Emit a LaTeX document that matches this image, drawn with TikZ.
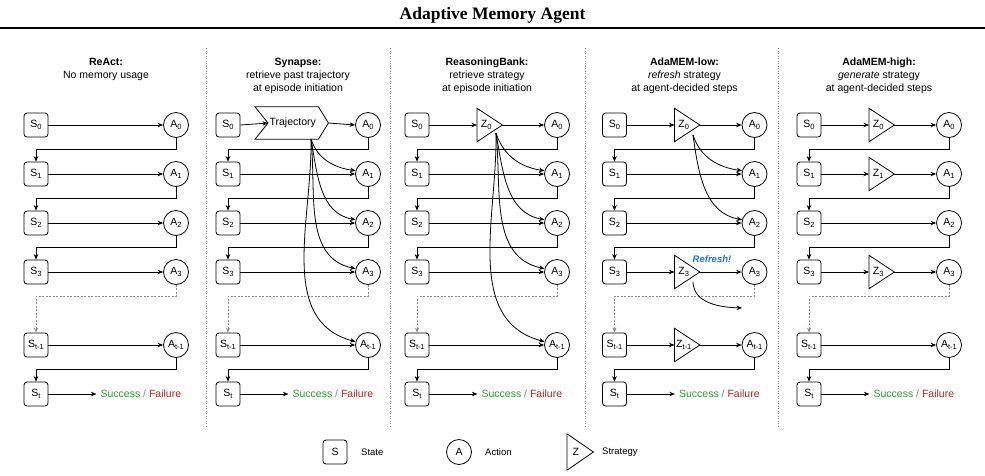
\documentclass[tikz,border=0pt]{standalone}
\usepackage{fontspec}
\setmainfont{Liberation Sans}
\newfontfamily\titlefont{Liberation Serif}
\usetikzlibrary{arrows.meta,calc}
\definecolor{sgreen}{HTML}{2CA02C}
\definecolor{sred}{HTML}{B22222}
\definecolor{rblue}{HTML}{1A73E8}
\definecolor{sepgray}{HTML}{8C8C8C}
\newcommand\lbl[2]{#1\raisebox{-0.35ex}{\fontsize{7.5}{8}\selectfont #2}}
\tikzset{
  st/.style={draw, rounded corners=3pt, minimum width=24pt, minimum height=24pt, inner sep=0pt, line width=0.8pt, font=\fontsize{10.5}{12}\selectfont},
  ac/.style={draw, circle, minimum size=25pt, inner sep=0pt, line width=0.8pt, font=\fontsize{10.5}{12}\selectfont},
  zz/.style={minimum width=25pt, minimum height=33pt, inner sep=0pt, anchor=west, font=\fontsize{10.5}{12}\selectfont},
  arr/.style={-{Stealth[length=5.5pt,width=4.5pt]}, line width=0.8pt},
  arrd/.style={-{Stealth[length=5pt,width=4pt]}, line width=0.5pt, draw=sepgray, dash pattern=on 2pt off 1.5pt},
  sep/.style={draw=sepgray, line width=0.6pt, dash pattern=on 1pt off 1.5pt},
  hdr/.style={align=center, anchor=north, inner sep=0pt, font=\fontsize{10.5}{13}\selectfont},
  sf/.style={anchor=west, inner sep=0pt, font=\fontsize{10.5}{12}\selectfont},
  lg/.style={anchor=west, inner sep=0pt, font=\fontsize{9.5}{11}\selectfont},
}
\newcommand\ztri[4]{%
  \node[zz] (#1) at (#2,#3) {\hspace*{-7pt}\lbl{Z}{#4}};
  \draw[line width=0.8pt] (#1.north west) -- (#1.east) -- (#1.south west) -- cycle;
}
\newcommand\mkcol[2]{%
  \foreach \r/\y/\s in {0/125/0, 1/174/1, 2/223/2, 3/272/3, t1/345/{t-1}} {
    \node[st] (#1s\r) at (#2,\y) {\lbl{S}{\s}};
    \node[ac] (#1a\r) at (#2+140,\y) {\lbl{A}{\s}};
  }
  \node[st] (#1st) at (#2,394) {\lbl{S}{t}};
  \draw[arr] (#1a0.south) -- ++(0,11) -| (#1s1.north);
  \draw[arr] (#1a1.south) -- ++(0,11) -| (#1s2.north);
  \draw[arr] (#1a2.south) -- ++(0,11) -| (#1s3.north);
  \draw[arrd] (#1a3.south) -- ++(0,11.5) -| (#1st1.north);
  \draw[arr] (#1at1.south) -- ++(0,11) -| (#1st.north);
  \draw[arr] (#1st.east) -- ++(48,0) coordinate (#1end);
  \node[sf] (#1sf) at ([xshift=4pt]#1end) {\textcolor{sgreen}{Success} \textcolor{gray}{/} \textcolor{sred}{Failure}};
}
\begin{document}
\begin{tikzpicture}[x=1pt,y=-1pt]
\useasboundingbox (0,0) rectangle (985,475);

% title
\node[font=\titlefont\bfseries\fontsize{17.5}{20}\selectfont, inner sep=0pt] (title) at (492.5,15) {Adaptive Memory Agent};
\draw[line width=2pt] (0,28) -- (985,28);

% headers
\node[hdr] (h1) at (106,58) {\textbf{ReAct:}\\No memory usage};
\node[hdr] (h2) at (298,58) {\textbf{Synapse:}\\retrieve past trajectory\\at episode initiation};
\node[hdr] (h3) at (487,58) {\textbf{ReasoningBank:}\\retrieve strategy\\at episode initiation};
\node[hdr] (h4) at (684.5,58) {\textbf{AdaMEM-low:}\\\textit{refresh} strategy\\at agent-decided steps};
\node[hdr] (h5) at (879,58) {\textbf{AdaMEM-high:}\\\textit{generate} strategy\\at agent-decided steps};

% separators
\draw[sep] (206,48) -- (206,428);
\draw[sep] (390,48) -- (390,428);
\draw[sep] (585,48) -- (585,428);
\draw[sep] (778,48) -- (778,428);

% columns
\mkcol{a}{36}
\mkcol{b}{228}
\mkcol{c}{417}
\mkcol{d}{614.5}
\mkcol{e}{809}

% column 1: ReAct
\foreach \r in {0,1,2,3,t1} { \draw[arr] (as\r.east) -- (aa\r.west); }

% column 2: Synapse
\node[minimum width=73pt, minimum height=32pt, inner sep=0pt, anchor=west, font=\fontsize{10.5}{12}\selectfont] (traj) at (255,123) {\hspace*{2pt}Trajectory};
\draw[line width=0.8pt] (traj.north west) -- ([xshift=-10pt]traj.north east) -- (traj.east) -- ([xshift=-10pt]traj.south east) -- (traj.south west) -- ([xshift=13pt]traj.west) -- cycle;
\draw[arr] (bs0.east) -- ([xshift=13pt]traj.west);
\draw[arr] (traj.east) -- (ba0.west);
\foreach \r in {1,2,3,t1} { \draw[arr] (bs\r.east) -- (ba\r.west); }
\coordinate (bsrc) at (311,139);
\draw[arr] (bsrc) to[out=-72,in=172] (ba1.165);
\draw[arr] (bsrc) to[out=-80,in=170] (ba2.165);
\draw[arr] (bsrc) to[out=-84,in=168] (ba3.165);
\draw[arr] (bsrc) to[out=-89,in=165] (bat1.165);

% column 3: ReasoningBank
\ztri{cz0}{477}{125}{0}
\draw[arr] (cs0.east) -- (cz0.west);
\draw[arr] (cz0.east) -- (ca0.west);
\foreach \r in {1,2,3,t1} { \draw[arr] (cs\r.east) -- (ca\r.west); }
\coordinate (csrc) at (496,133);
\draw[arr] (csrc) to[out=-72,in=172] (ca1.165);
\draw[arr] (csrc) to[out=-80,in=170] (ca2.165);
\draw[arr] (csrc) to[out=-84,in=168] (ca3.165);
\draw[arr] (csrc) to[out=-89,in=165] (cat1.165);

% column 4: AdaMEM-low
\ztri{dz0}{674.5}{125}{0}
\ztri{dz3}{674.5}{272}{3}
\ztri{dzt1}{674.5}{345}{t-1}
\draw[arr] (ds0.east) -- (dz0.west);
\draw[arr] (dz0.east) -- (da0.west);
\draw[arr] (ds3.east) -- (dz3.west);
\draw[arr] (dz3.east) -- (da3.west);
\draw[arr] (dst1.east) -- (dzt1.west);
\draw[arr] (dzt1.east) -- (dat1.west);
\foreach \r in {1,2} { \draw[arr] (ds\r.east) -- (da\r.west); }
\coordinate (dsrc) at (693,135);
\draw[arr] (dsrc) to[out=-72,in=172] (da1.165);
\draw[arr] (dsrc) to[out=-82,in=170] (da2.165);
\node[font=\bfseries\itshape\fontsize{9.5}{11}\selectfont, text=rblue, inner sep=0pt] (refresh) at (712,259) {Refresh!};
\coordinate (dsrc3) at (693,282);
\coordinate (dend3) at (742,308);
\draw[arr] (dsrc3) to[out=-88,in=178] (dend3);

% column 5: AdaMEM-high
\ztri{ez0}{869}{125}{0}
\ztri{ez1}{869}{174}{1}
\ztri{ez3}{869}{272}{3}
\draw[arr] (es0.east) -- (ez0.west);
\draw[arr] (ez0.east) -- (ea0.west);
\draw[arr] (es1.east) -- (ez1.west);
\draw[arr] (ez1.east) -- (ea1.west);
\draw[arr] (es3.east) -- (ez3.west);
\draw[arr] (ez3.east) -- (ea3.west);
\draw[arr] (es2.east) -- (ea2.west);
\draw[arr] (est1.east) -- (eat1.west);

% legend
\node[st] (ls) at (335,452) {S};
\node[lg] (lst) at (361,452) {State};
\node[ac] (la) at (459,452) {A};
\node[lg] (lat) at (485,452) {Action};
\node[zz, minimum height=36pt, minimum width=26pt] (lz) at (567,452) {\hspace*{-9pt}Z};
\draw[line width=0.8pt] (lz.north west) -- (lz.east) -- (lz.south west) -- cycle;
\node[lg] (lzt) at (602,452) {Strategy};
\end{tikzpicture}
\end{document}
